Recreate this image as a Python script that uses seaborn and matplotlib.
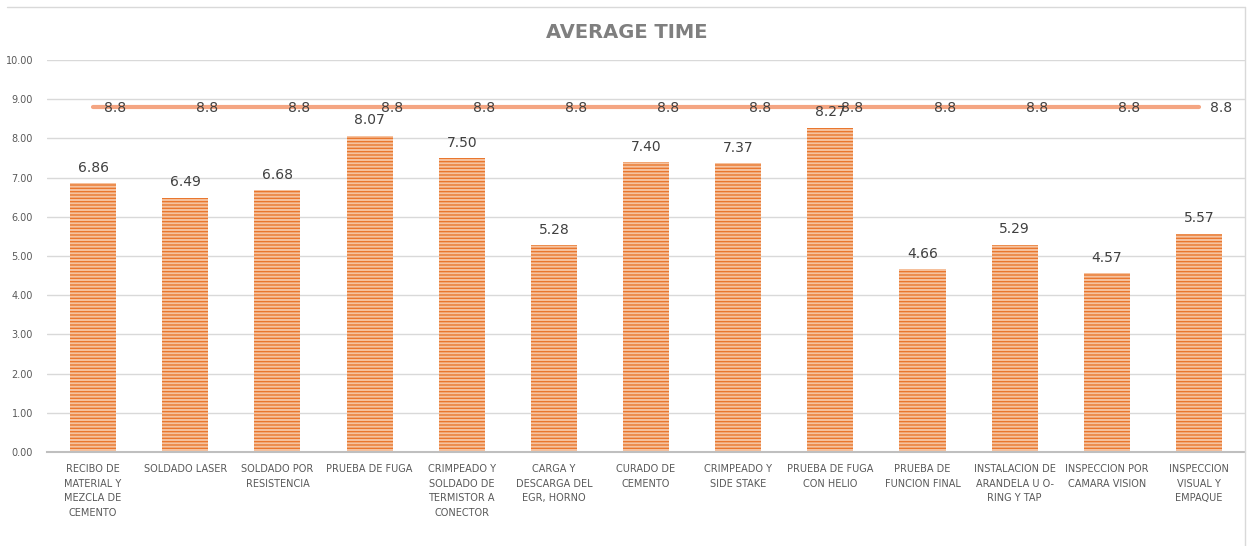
import numpy as np
import pandas as pd
import matplotlib
matplotlib.use("Agg")
import matplotlib.pyplot as plt
import seaborn as sns
from matplotlib.lines import Line2D

# Process steps and their average times
steps = [
    "RECIBO DE\nMATERIAL Y\nMEZCLA DE\nCEMENTO",
    "SOLDADO LASER",
    "SOLDADO POR\nRESISTENCIA",
    "PRUEBA DE FUGA",
    "CRIMPEADO Y\nSOLDADO DE\nTERMISTOR A\nCONECTOR",
    "CARGA Y\nDESCARGA DEL\nEGR, HORNO",
    "CURADO DE\nCEMENTO",
    "CRIMPEADO Y\nSIDE STAKE",
    "PRUEBA DE FUGA\nCON HELIO",
    "PRUEBA DE\nFUNCION FINAL",
    "INSTALACION DE\nARANDELA U O-\nRING Y TAP",
    "INSPECCION POR\nCAMARA VISION",
    "INSPECCION\nVISUAL Y\nEMPAQUE",
]
avg_time = [6.86, 6.49, 6.68, 8.07, 7.50, 5.28, 7.40, 7.37, 8.27, 4.66, 5.29, 4.57, 5.57]
takt = [8.8] * len(steps)
y_ticks = [0, 1, 2, 3, 4, 5, 6, 7, 8, 9, 10]

df = pd.DataFrame({"step": steps, "avg": avg_time, "takt": takt})
df["pos"] = np.arange(len(df))

sns.set_style("white")
plt.rcParams["font.family"] = ["DejaVu Sans"]

fig = plt.figure(figsize=(12.47, 5.46), dpi=100)
ax = fig.add_axes([47 / 1247, 1 - 452 / 546, (1245 - 47) / 1247, (452 - 60) / 546])

bar_face = "#F6C3A0"
bar_line = "#E9772E"
sns.barplot(data=df, x="step", y="avg", ax=ax, width=0.5,
            color=bar_face, saturation=1, zorder=2)
matplotlib.rcParams["hatch.linewidth"] = 1.0
for patch in ax.patches:
    patch.set_facecolor(bar_face)
    patch.set_edgecolor(bar_line)
    patch.set_hatch("-----")
    patch.set_linewidth(0)

sns.lineplot(data=df, x="pos", y="takt", ax=ax, color="#F4A582",
             linewidth=3, zorder=3)

# Value labels
for i, v in enumerate(avg_time):
    ax.annotate(f"{v:.2f}", (i, v), xytext=(0, 6), textcoords="offset points",
                ha="center", va="bottom", fontsize=10, color="#404040", zorder=4)
for i, v in enumerate(takt):
    ax.annotate(f"{v:g}", (i, v), xytext=(8, -1), textcoords="offset points",
                ha="left", va="center", fontsize=10, color="#404040", zorder=4)

ax.set_xlim(-0.5, len(steps) - 0.5)
ax.set_ylim(0, 10)
ax.set_yticks(y_ticks)
ax.set_yticklabels([f"{t:.2f}" for t in y_ticks], fontsize=7, color="#595959")
ax.set_xticks(df["pos"])
ax.set_xticklabels(steps, fontsize=7, color="#595959", linespacing=1.55,
                   va="top")
ax.tick_params(axis="both", length=0)
ax.tick_params(axis="x", pad=9)
ax.tick_params(axis="y", pad=10)
ax.set_xlabel("")
ax.set_ylabel("")
ax.grid(axis="y", color="#D9D9D9", linewidth=1, zorder=0)
ax.set_axisbelow(True)
for side in ["top", "right", "left"]:
    ax.spines[side].set_visible(False)
ax.spines["bottom"].set_color("#BFBFBF")
ax.spines["bottom"].set_linewidth(1.5)

fig.text(627 / 1247, 1 - 33 / 546, "AVERAGE TIME", ha="center", va="center",
         fontsize=14, fontweight="bold", color="#7F7F7F")

# Chart frame (top and right edges)
fig.add_artist(Line2D([7 / 1247, 1245 / 1247], [1 - 7 / 546, 1 - 7 / 546],
                      transform=fig.transFigure, color="#D9D9D9", linewidth=1))
fig.add_artist(Line2D([1245 / 1247, 1245 / 1247], [1 - 7 / 546, 0],
                      transform=fig.transFigure, color="#D9D9D9", linewidth=1))

fig.savefig("out.png", dpi=100)
